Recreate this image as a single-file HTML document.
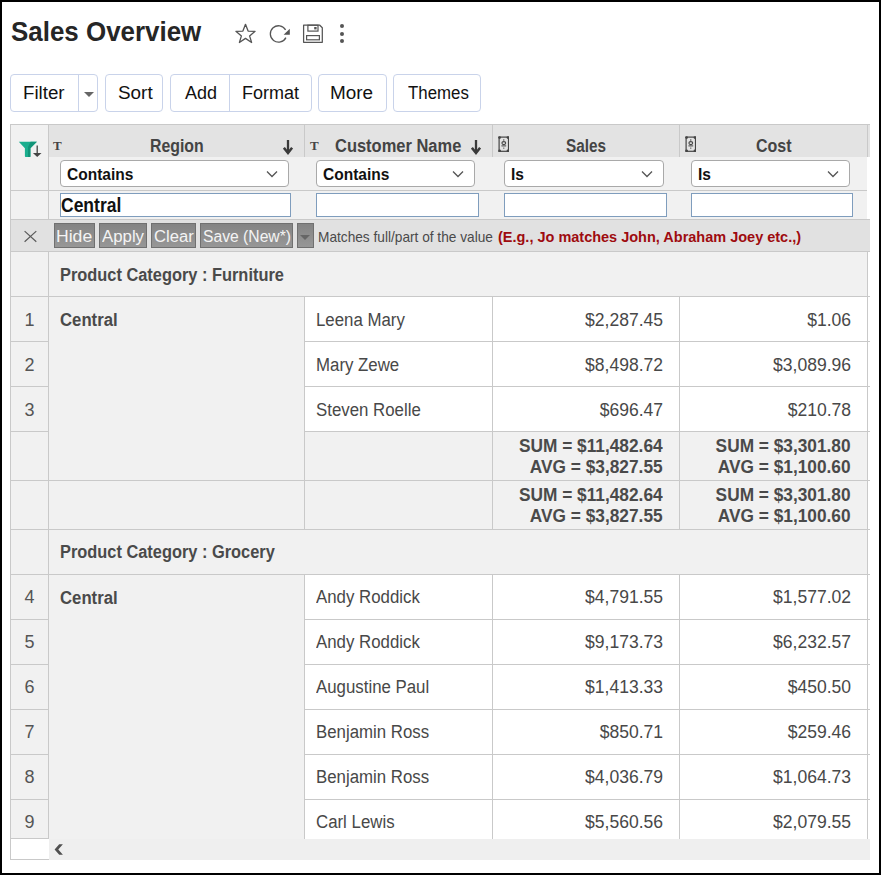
<!DOCTYPE html>
<html><head><meta charset="utf-8">
<style>
*{box-sizing:border-box;margin:0;padding:0}
html,body{width:881px;height:875px;overflow:hidden;background:#fff}
body{position:relative;font-family:"Liberation Sans",sans-serif;color:#444}
.a{position:absolute}
.t{position:absolute;white-space:nowrap;line-height:1}
.sx{display:inline-block;transform-origin:0 0}
.hl{position:absolute;height:1px;background:#c9c9c9}
.vl{position:absolute;width:1px;background:#c9c9c9}
.btn{position:absolute;top:74px;height:38px;border:1px solid #c9d3ea;border-radius:4px;background:#fff}
.bt{position:absolute;font-size:18px;color:#111;line-height:1;top:9px;white-space:nowrap}
.g{background:#f1f1f1}
.sel{position:absolute;top:160px;height:27px;border:1px solid #a9a9a9;border-radius:4px;background:#fff}
.sel .st{position:absolute;left:6px;top:6px;font-size:16px;font-weight:700;color:#111;line-height:1;transform:scaleX(0.97);transform-origin:0 0;white-space:nowrap}
.sel svg{position:absolute;top:9px}
.inp{position:absolute;top:193px;height:24px;border:1px solid #7f9dbd;background:#fff}
.tb{position:absolute;top:223px;height:24.5px;background:linear-gradient(#848484,#979797);border:1px solid #707070;color:#f4f4f4;font-size:16px;line-height:1}
.tb span{position:absolute;top:5px;white-space:nowrap}
.rn{position:absolute;left:11px;width:37px;text-align:center;font-size:18px;color:#555;line-height:1}
.ct{position:absolute;left:316px;font-size:18px;color:#484848;line-height:1;white-space:nowrap}
.num{position:absolute;font-size:18px;color:#484848;line-height:1;white-space:nowrap;text-align:right}
.b{font-weight:700}
.num.b{color:#4a4a4a}
</style></head><body>
<!-- frame -->
<div class="a" style="left:0;top:0;width:881px;height:875px;border:2px solid #000"></div>

<!-- title -->
<div class="t b" style="left:11px;top:18px;font-size:28px;color:#262626"><span class="sx" style="transform:scaleX(0.926)">Sales Overview</span></div>


<svg class="a" style="left:234px;top:22px" width="23" height="23" viewBox="0 0 23 23"><path d="M11.5 2.3 L14.1 9.1 L21.1 9.3 L15.6 13.9 L17.6 20.5 L11.5 16.4 L5.4 20.5 L7.4 13.9 L1.9 9.3 L8.9 9.1 Z" fill="none" stroke="#555" stroke-width="1.3" stroke-linejoin="round"/></svg>
<svg class="a" style="left:269px;top:23px" width="23" height="22" viewBox="0 0 23 22"><path d="M16.6 6.8 A8.2 8.2 0 1 0 16.9 14.6" fill="none" stroke="#555" stroke-width="1.3"/><path d="M20.8 5.8 L20.8 11.7 L14.6 11.7 Z" fill="#555"/></svg>
<svg class="a" style="left:302px;top:23px" width="23" height="22" viewBox="0 0 23 22"><path d="M1.6 2.2 H17.8 L20.3 4.7 V19.3 H1.6 Z" fill="none" stroke="#555" stroke-width="1.25" stroke-linejoin="round"/><rect x="5.9" y="2.2" width="10.1" height="5.9" fill="none" stroke="#555" stroke-width="1.2"/><rect x="12.2" y="4" width="2.4" height="2.4" fill="#555"/><rect x="4.6" y="12.6" width="12.8" height="4.2" fill="none" stroke="#555" stroke-width="1.2"/></svg>
<div class="a" style="left:340px;top:24px;width:4px;height:4px;border-radius:2px;background:#555"></div>
<div class="a" style="left:340px;top:32px;width:4px;height:4px;border-radius:2px;background:#555"></div>
<div class="a" style="left:340px;top:39px;width:4px;height:4px;border-radius:2px;background:#555"></div>

<div class="btn" style="left:10px;width:88px"><div class="a" style="left:67px;top:0;width:1px;height:36px;background:#c9d3ea"></div><span class="bt" style="left:11.5px;transform:scaleX(1.04);transform-origin:0 0">Filter</span><div class="a" style="left:73px;top:17px;width:0;height:0;border-left:5px solid transparent;border-right:5px solid transparent;border-top:5px solid #666"></div></div>
<div class="btn" style="left:105px;width:58px"><span class="bt" style="left:12px;transform:scaleX(1.05);transform-origin:0 0">Sort</span></div>
<div class="btn" style="left:170px;width:142px"><div class="a" style="left:58px;top:0;width:1px;height:36px;background:#c9d3ea"></div><span class="bt" style="left:14px">Add</span><span class="bt" style="left:71px">Format</span></div>
<div class="btn" style="left:318px;width:69px"><span class="bt" style="left:11px;transform:scaleX(1.05);transform-origin:0 0">More</span></div>
<div class="btn" style="left:393px;width:88px"><span class="bt" style="left:13.5px;transform:scaleX(0.935);transform-origin:0 0">Themes</span></div>
<div class="a" style="left:11px;top:125px;width:37px;height:94px;background:#f1f1f1"></div>
<div class="a" style="left:49px;top:125px;width:821px;height:32px;background:#e3e3e3"></div>
<div class="a" style="left:49px;top:157px;width:818px;height:62px;background:#f1f1f1"></div>
<div class="a" style="left:11px;top:220px;width:859px;height:31px;background:#e1e1e1"></div><div class="hl" style="left:10px;top:219px;width:860px"></div>
<div class="a" style="left:11px;top:252px;width:856px;height:587px;background:#f1f1f1"></div>
<div class="a" style="left:305px;top:297px;width:562px;height:134px;background:#fff"></div>
<div class="a" style="left:305px;top:575px;width:562px;height:264px;background:#fff"></div>
<div class="a" style="left:11px;top:839px;width:37px;height:20px;background:#fff"></div>
<div class="a" style="left:49px;top:839px;width:821px;height:21px;background:#efefef"></div>
<div class="hl" style="left:10px;top:124px;width:860px"></div>
<div class="vl" style="left:10px;top:124px;height:736px"></div>
<div class="hl" style="left:10px;top:859px;width:39px"></div>
<div class="vl" style="left:48px;top:124px;height:95px"></div>
<div class="vl" style="left:304px;top:125px;height:32px"></div>
<div class="vl" style="left:492px;top:125px;height:32px"></div>
<div class="vl" style="left:679px;top:125px;height:32px"></div>
<div class="vl" style="left:867px;top:125px;height:32px"></div>
<div class="hl" style="left:10px;top:190px;width:857px"></div>
<div class="hl" style="left:10px;top:251px;width:860px"></div>
<div class="hl" style="left:10px;top:296px;width:860px"></div>
<div class="hl" style="left:10px;top:574px;width:860px"></div>
<div class="hl" style="left:10px;top:529px;width:860px"></div>
<div class="hl" style="left:10px;top:480px;width:860px"></div>
<div class="vl" style="left:48px;top:251px;height:588px"></div>
<div class="vl" style="left:867px;top:251px;height:588px"></div>
<div class="vl" style="left:304px;top:296px;height:233px"></div>
<div class="vl" style="left:304px;top:574px;height:265px"></div>
<div class="vl" style="left:492px;top:296px;height:233px"></div>
<div class="vl" style="left:492px;top:574px;height:265px"></div>
<div class="vl" style="left:679px;top:296px;height:233px"></div>
<div class="vl" style="left:679px;top:574px;height:265px"></div>
<div class="hl" style="left:304px;top:341px;width:566px"></div>
<div class="hl" style="left:304px;top:386px;width:566px"></div>
<div class="hl" style="left:304px;top:431px;width:566px"></div>
<div class="hl" style="left:304px;top:619px;width:566px"></div>
<div class="hl" style="left:304px;top:664px;width:566px"></div>
<div class="hl" style="left:304px;top:709px;width:566px"></div>
<div class="hl" style="left:304px;top:754px;width:566px"></div>
<div class="hl" style="left:304px;top:799px;width:566px"></div>
<div class="hl" style="left:10px;top:341px;width:38px"></div>
<div class="hl" style="left:10px;top:386px;width:38px"></div>
<div class="hl" style="left:10px;top:431px;width:38px"></div>
<div class="hl" style="left:10px;top:619px;width:38px"></div>
<div class="hl" style="left:10px;top:664px;width:38px"></div>
<div class="hl" style="left:10px;top:709px;width:38px"></div>
<div class="hl" style="left:10px;top:754px;width:38px"></div>
<div class="hl" style="left:10px;top:799px;width:38px"></div>
<div class="hl" style="left:10px;top:838px;width:38px"></div>
<svg class="a" style="left:18px;top:141px" width="25" height="17" viewBox="0 0 25 17"><path d="M0.8 0.8 H18.9 L12.4 7.3 V15.2 Q12.4 16 11.6 16 H7.7 Q6.9 16 6.9 15.2 V7.3 Z" fill="#1aae8e"/><path d="M12.6 0.8 H18.9 L12.4 7.3 V16 H10 V6 Z" fill="#129478"/><path d="M19.2 4.6 V12.5" stroke="#444" stroke-width="1.3"/><path d="M14.9 12 H23.5 L19.2 15.9 Z" fill="#444"/></svg>
<div class="t" style="left:53px;top:139px;font-family:'Liberation Serif',serif;font-weight:700;font-size:13px;color:#444">T</div>
<div class="t" style="left:310px;top:139px;font-family:'Liberation Serif',serif;font-weight:700;font-size:13px;color:#444">T</div>
<svg class="a" style="left:498px;top:136px" width="11" height="16" viewBox="0 0 11 16"><rect x="1.1" y="1.1" width="9.4" height="14.2" fill="none" stroke="#444" stroke-width="1.2"/><circle cx="1.6" cy="1.6" r="1.4" fill="#444"/><circle cx="10" cy="1.6" r="1.4" fill="#444"/><circle cx="1.6" cy="14.8" r="1.4" fill="#444"/><circle cx="10" cy="14.8" r="1.4" fill="#444"/><ellipse cx="5.8" cy="7.1" rx="1.9" ry="1.5" fill="none" stroke="#444" stroke-width="1.1"/><circle cx="5.8" cy="4" r="0.7" fill="#444"/><path d="M3.4 9.9 H8.2" stroke="#444" stroke-width="1"/><circle cx="5.8" cy="12.1" r="0.7" fill="#444"/></svg>
<svg class="a" style="left:685px;top:136px" width="11" height="16" viewBox="0 0 11 16"><rect x="1.1" y="1.1" width="9.4" height="14.2" fill="none" stroke="#444" stroke-width="1.2"/><circle cx="1.6" cy="1.6" r="1.4" fill="#444"/><circle cx="10" cy="1.6" r="1.4" fill="#444"/><circle cx="1.6" cy="14.8" r="1.4" fill="#444"/><circle cx="10" cy="14.8" r="1.4" fill="#444"/><ellipse cx="5.8" cy="7.1" rx="1.9" ry="1.5" fill="none" stroke="#444" stroke-width="1.1"/><circle cx="5.8" cy="4" r="0.7" fill="#444"/><path d="M3.4 9.9 H8.2" stroke="#444" stroke-width="1"/><circle cx="5.8" cy="12.1" r="0.7" fill="#444"/></svg>
<div class="t b" style="left:150px;top:137px;font-size:18px;color:#444"><span class="sx" style="transform:scaleX(0.88)">Region</span></div>
<div class="t b" style="left:335px;top:137px;font-size:18px;color:#444"><span class="sx" style="transform:scaleX(0.915)">Customer Name</span></div>
<div class="t b" style="left:566px;top:137px;font-size:18px;color:#444"><span class="sx" style="transform:scaleX(0.85)">Sales</span></div>
<div class="t b" style="left:756px;top:137px;font-size:18px;color:#444"><span class="sx" style="transform:scaleX(0.89)">Cost</span></div>
<svg class="a" style="left:283px;top:140px" width="12" height="16" viewBox="0 0 12 16"><path d="M5 0 V13" fill="none" stroke="#3a3a3a" stroke-width="2.3"/><path d="M0.9 7.8 L5 13 L9.1 7.8" fill="none" stroke="#3a3a3a" stroke-width="2.5" stroke-miterlimit="10"/></svg>
<svg class="a" style="left:471px;top:140px" width="12" height="16" viewBox="0 0 12 16"><path d="M5 0 V13" fill="none" stroke="#3a3a3a" stroke-width="2.3"/><path d="M0.9 7.8 L5 13 L9.1 7.8" fill="none" stroke="#3a3a3a" stroke-width="2.5" stroke-miterlimit="10"/></svg>
<div class="sel" style="left:60px;width:229px"><span class="st">Contains</span><svg style="right:10px" width="12" height="8" viewBox="0 0 12 8"><path d="M1 1.5 L6 6.5 L11 1.5" fill="none" stroke="#555" stroke-width="1.3"/></svg></div>
<div class="sel" style="left:316px;width:159px"><span class="st">Contains</span><svg style="right:10px" width="12" height="8" viewBox="0 0 12 8"><path d="M1 1.5 L6 6.5 L11 1.5" fill="none" stroke="#555" stroke-width="1.3"/></svg></div>
<div class="sel" style="left:504px;width:160px"><span class="st">Is</span><svg style="right:10px" width="12" height="8" viewBox="0 0 12 8"><path d="M1 1.5 L6 6.5 L11 1.5" fill="none" stroke="#555" stroke-width="1.3"/></svg></div>
<div class="sel" style="left:691px;width:159px"><span class="st">Is</span><svg style="right:10px" width="12" height="8" viewBox="0 0 12 8"><path d="M1 1.5 L6 6.5 L11 1.5" fill="none" stroke="#555" stroke-width="1.3"/></svg></div>
<div class="inp" style="left:60px;width:231px"><span class="t b" style="left:-0.5px;top:1px;font-size:20px;color:#111"><span class="sx" style="transform:scaleX(0.875)">Central</span></span></div>
<div class="inp" style="left:316px;width:163px"></div>
<div class="inp" style="left:504px;width:163px"></div>
<div class="inp" style="left:691px;width:162px"></div>
<svg class="a" style="left:23px;top:229px" width="15" height="15" viewBox="0 0 15 15"><path d="M1.6 2.1 L13.3 12.8 M13.3 2.1 L1.6 12.8" stroke="#5a5a5a" stroke-width="1.2"/></svg>
<div class="tb" style="left:54px;width:41px"><span style="left:0.6px;transform:scaleX(1.1);transform-origin:0 0">Hide</span></div>
<div class="tb" style="left:99px;width:48px"><span style="left:2.4px;transform:scaleX(1.05);transform-origin:0 0">Apply</span></div>
<div class="tb" style="left:151px;width:45px"><span style="left:2px;transform:scaleX(1.04);transform-origin:0 0">Clear</span></div>
<div class="tb" style="left:200px;width:93px"><span style="left:2px;transform:scaleX(0.98);transform-origin:0 0">Save (New*)</span></div>
<div class="tb" style="left:297px;width:17px"><div class="a" style="left:2px;top:11px;width:0;height:0;border-left:5px solid transparent;border-right:5px solid transparent;border-top:5px solid #666"></div></div>
<div class="t" style="left:318px;top:229px;font-size:15px;color:#4a4a4a"><span class="sx" style="transform:scaleX(0.912)">Matches full/part of the value</span></div>
<div class="t b" style="left:498px;top:228.5px;font-size:15px;color:#9e0b0f"><span class="sx" style="transform:scaleX(0.966)">(E.g., Jo matches John, Abraham Joey etc.,)</span></div>
<div class="t b" style="left:60px;top:266px;font-size:18px;color:#4a4a4a"><span class="sx" style="transform:scaleX(0.91)">Product Category : Furniture</span></div>
<div class="t b" style="left:60px;top:543px;font-size:18px;color:#4a4a4a"><span class="sx" style="transform:scaleX(0.91)">Product Category : Grocery</span></div>
<div class="rn" style="top:311px">1</div>
<div class="rn" style="top:356px">2</div>
<div class="rn" style="top:401px">3</div>
<div class="rn" style="top:588px">4</div>
<div class="rn" style="top:633px">5</div>
<div class="rn" style="top:678px">6</div>
<div class="rn" style="top:723px">7</div>
<div class="rn" style="top:768px">8</div>
<div class="rn" style="top:813px">9</div>
<div class="t b" style="left:60px;top:311px;font-size:18px;color:#4a4a4a"><span class="sx" style="transform:scaleX(0.93)">Central</span></div>
<div class="t b" style="left:60px;top:589px;font-size:18px;color:#4a4a4a"><span class="sx" style="transform:scaleX(0.93)">Central</span></div>
<div class="ct" style="top:311px"><span class="sx" style="transform:scaleX(0.935)">Leena Mary</span></div>
<div class="num" style="left:492px;width:171px;top:311px"><span class="sx" style="transform:scaleX(0.975);transform-origin:100% 0">$2,287.45</span></div>
<div class="num" style="left:679px;width:172px;top:311px"><span class="sx" style="transform:scaleX(0.975);transform-origin:100% 0">$1.06</span></div>
<div class="ct" style="top:356px"><span class="sx" style="transform:scaleX(0.935)">Mary Zewe</span></div>
<div class="num" style="left:492px;width:171px;top:356px"><span class="sx" style="transform:scaleX(0.975);transform-origin:100% 0">$8,498.72</span></div>
<div class="num" style="left:679px;width:172px;top:356px"><span class="sx" style="transform:scaleX(0.975);transform-origin:100% 0">$3,089.96</span></div>
<div class="ct" style="top:401px"><span class="sx" style="transform:scaleX(0.935)">Steven Roelle</span></div>
<div class="num" style="left:492px;width:171px;top:401px"><span class="sx" style="transform:scaleX(0.975);transform-origin:100% 0">$696.47</span></div>
<div class="num" style="left:679px;width:172px;top:401px"><span class="sx" style="transform:scaleX(0.975);transform-origin:100% 0">$210.78</span></div>
<div class="ct" style="top:588px"><span class="sx" style="transform:scaleX(0.935)">Andy Roddick</span></div>
<div class="num" style="left:492px;width:171px;top:588px"><span class="sx" style="transform:scaleX(0.975);transform-origin:100% 0">$4,791.55</span></div>
<div class="num" style="left:679px;width:172px;top:588px"><span class="sx" style="transform:scaleX(0.975);transform-origin:100% 0">$1,577.02</span></div>
<div class="ct" style="top:633px"><span class="sx" style="transform:scaleX(0.935)">Andy Roddick</span></div>
<div class="num" style="left:492px;width:171px;top:633px"><span class="sx" style="transform:scaleX(0.975);transform-origin:100% 0">$9,173.73</span></div>
<div class="num" style="left:679px;width:172px;top:633px"><span class="sx" style="transform:scaleX(0.975);transform-origin:100% 0">$6,232.57</span></div>
<div class="ct" style="top:678px"><span class="sx" style="transform:scaleX(0.935)">Augustine Paul</span></div>
<div class="num" style="left:492px;width:171px;top:678px"><span class="sx" style="transform:scaleX(0.975);transform-origin:100% 0">$1,413.33</span></div>
<div class="num" style="left:679px;width:172px;top:678px"><span class="sx" style="transform:scaleX(0.975);transform-origin:100% 0">$450.50</span></div>
<div class="ct" style="top:723px"><span class="sx" style="transform:scaleX(0.935)">Benjamin Ross</span></div>
<div class="num" style="left:492px;width:171px;top:723px"><span class="sx" style="transform:scaleX(0.975);transform-origin:100% 0">$850.71</span></div>
<div class="num" style="left:679px;width:172px;top:723px"><span class="sx" style="transform:scaleX(0.975);transform-origin:100% 0">$259.46</span></div>
<div class="ct" style="top:768px"><span class="sx" style="transform:scaleX(0.935)">Benjamin Ross</span></div>
<div class="num" style="left:492px;width:171px;top:768px"><span class="sx" style="transform:scaleX(0.975);transform-origin:100% 0">$4,036.79</span></div>
<div class="num" style="left:679px;width:172px;top:768px"><span class="sx" style="transform:scaleX(0.975);transform-origin:100% 0">$1,064.73</span></div>
<div class="ct" style="top:813px"><span class="sx" style="transform:scaleX(0.935)">Carl Lewis</span></div>
<div class="num" style="left:492px;width:171px;top:813px"><span class="sx" style="transform:scaleX(0.975);transform-origin:100% 0">$5,560.56</span></div>
<div class="num" style="left:679px;width:172px;top:813px"><span class="sx" style="transform:scaleX(0.975);transform-origin:100% 0">$2,079.55</span></div>
<div class="num b" style="left:492px;width:171px;top:436px;line-height:21px"><span class="sx" style="transform:scaleX(0.96);transform-origin:100% 0">SUM = $11,482.64<br>AVG = $3,827.55</span></div>
<div class="num b" style="left:679px;width:172px;top:436px;line-height:21px"><span class="sx" style="transform:scaleX(0.96);transform-origin:100% 0">SUM = $3,301.80<br>AVG = $1,100.60</span></div>
<div class="num b" style="left:492px;width:171px;top:485px;line-height:21px"><span class="sx" style="transform:scaleX(0.96);transform-origin:100% 0">SUM = $11,482.64<br>AVG = $3,827.55</span></div>
<div class="num b" style="left:679px;width:172px;top:485px;line-height:21px"><span class="sx" style="transform:scaleX(0.96);transform-origin:100% 0">SUM = $3,301.80<br>AVG = $1,100.60</span></div>
<svg class="a" style="left:54px;top:843px" width="10" height="13" viewBox="0 0 10 13"><path d="M5.2 1.2 L8.9 1.2 L4.3 6.4 L8.9 11.7 L5.2 11.7 L0.6 6.4 Z" fill="#505050"/></svg>
</body></html>
